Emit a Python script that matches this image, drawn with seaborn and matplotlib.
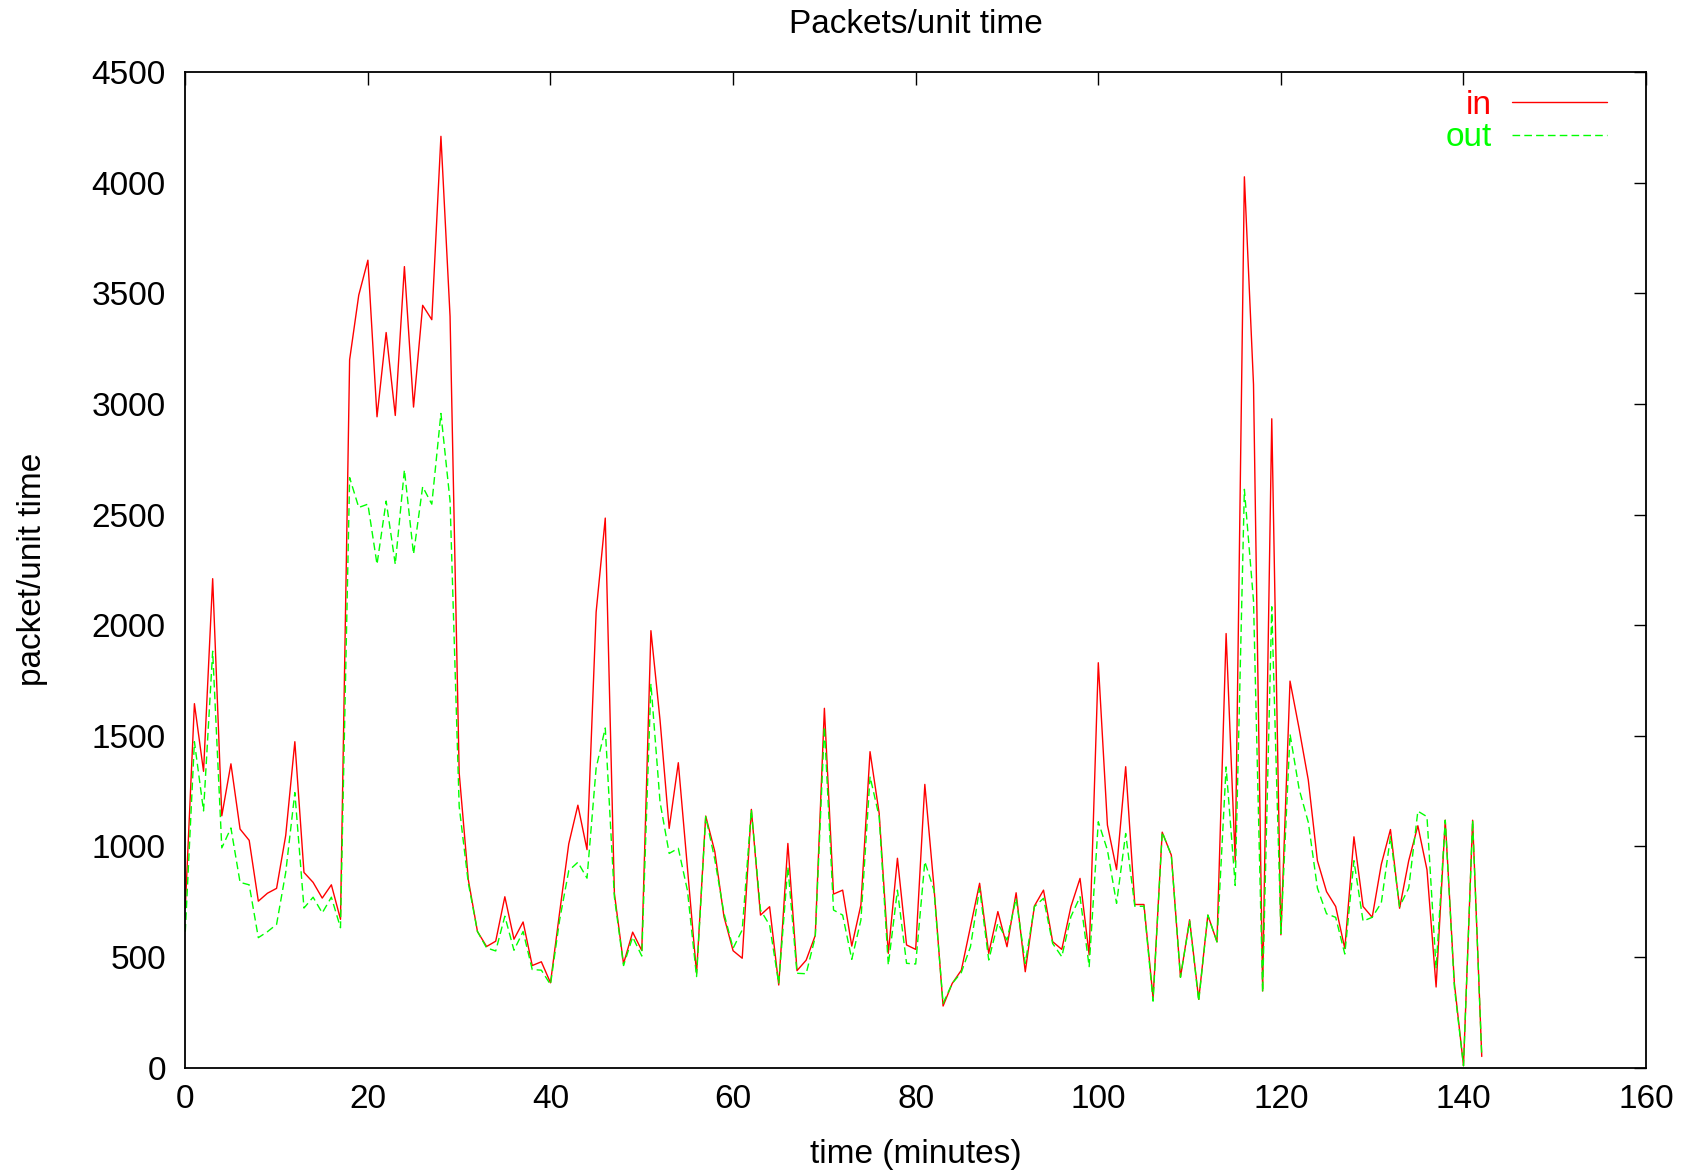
import numpy as np
import pandas as pd
import matplotlib
matplotlib.use("Agg")
import matplotlib.pyplot as plt
import seaborn as sns

minutes = list(range(143))

packets_in = [
    720, 1645, 1339, 2210, 1138, 1373, 1078, 1027, 752, 788,
    810, 1049, 1473, 882, 837, 766, 826, 670, 3200, 3492,
    3650, 2942, 3323, 2948, 3621, 2986, 3446, 3381, 4210, 3396,
    1332, 849, 615, 547, 571, 772, 580, 658, 461, 478,
    383, 701, 1011, 1186, 985, 2059, 2484, 787, 469, 612,
    529, 1975, 1570, 1081, 1378, 900, 426, 1137, 976, 682,
    528, 494, 1167, 689, 727, 373, 1013, 438, 485, 597,
    1624, 784, 802, 549, 735, 1428, 1149, 516, 946, 554,
    534, 1280, 817, 278, 380, 440, 637, 833, 516, 705,
    546, 790, 433, 730, 802, 569, 534, 727, 855, 509,
    1830, 1096, 895, 1360, 737, 737, 314, 1064, 960, 408,
    668, 308, 689, 568, 1962, 930, 4027, 3088, 346, 2933,
    600, 1747, 1531, 1300, 935, 795, 728, 538, 1043, 728,
    679, 919, 1076, 720, 935, 1093, 894, 364, 1118, 381,
    8, 1118, 50,
]

packets_out = [
    614, 1473, 1160, 1882, 993, 1083, 837, 826, 587, 614,
    647, 882, 1243, 721, 770, 699, 770, 632, 2667, 2532,
    2547, 2275, 2561, 2275, 2702, 2321, 2626, 2547, 2957, 2561,
    1180, 834, 615, 541, 527, 684, 530, 615, 443, 440,
    375, 667, 890, 928, 856, 1354, 1535, 770, 461, 590,
    504, 1735, 1200, 968, 991, 800, 411, 1134, 940, 697,
    539, 622, 1167, 712, 644, 380, 908, 426, 424, 590,
    1541, 712, 689, 489, 667, 1315, 1134, 463, 802, 471,
    468, 931, 802, 290, 380, 430, 546, 810, 486, 652,
    576, 765, 471, 727, 765, 561, 501, 682, 772, 456,
    1111, 983, 742, 1058, 729, 729, 300, 1064, 960, 408,
    662, 300, 689, 568, 1359, 823, 2614, 2110, 340, 2083,
    606, 1507, 1258, 1109, 811, 695, 679, 513, 935, 662,
    679, 745, 1043, 728, 811, 1159, 1134, 447, 1118, 364,
    8, 1118, 50,
]

x_ticks = [0, 20, 40, 60, 80, 100, 120, 140, 160]
y_ticks = [0, 500, 1000, 1500, 2000, 2500, 3000, 3500, 4000, 4500]

df = pd.DataFrame({"t": minutes, "in": packets_in, "out": packets_out})

sns.set_style("white")
plt.rcParams["font.family"] = ["Liberation Sans", "DejaVu Sans"]
plt.rcParams["text.color"] = "black"
plt.rcParams["axes.labelcolor"] = "black"
plt.rcParams["xtick.color"] = "black"
plt.rcParams["ytick.color"] = "black"
FS = 24

fig = plt.figure(figsize=(16.89, 11.70), dpi=100)
ax = fig.add_axes([0.1097, 0.0876, 0.9746 - 0.1097, 0.9383 - 0.0876])

sns.lineplot(data=df, x="t", y="in", ax=ax, color="#ff0000", linewidth=1.0,
             label="in")
sns.lineplot(data=df, x="t", y="out", ax=ax, color="#00ff00", linewidth=1.0,
             linestyle=(0, (5.5, 3.0)), label="out")

ax.set_xlim(0, 160)
ax.set_ylim(0, 4500)
ax.set_xticks(x_ticks)
ax.set_yticks(y_ticks)
ax.tick_params(direction="in", top=True, right=True, length=9, width=1.0,
               labelsize=FS, color="black", labelcolor="black")
ax.tick_params(axis="y", pad=14)
ax.tick_params(axis="x", pad=12)
for s in ax.spines.values():
    s.set_visible(True)
    s.set_linewidth(1.3)
    s.set_color("black")

ax.set_title("Packets/unit time", fontsize=FS, pad=28, color="black")
ax.set_xlabel("time (minutes)", fontsize=FS, color="black")
ax.set_ylabel("packet/unit time", fontsize=FS, color="black")
ax.xaxis.set_label_coords(0.5, -0.0715)
ax.yaxis.set_label_coords(-0.094, 0.5)

leg = ax.legend(loc="upper right", frameon=False, markerfirst=False,
                fontsize=FS, labelcolor="linecolor", handlelength=2.85,
                handletextpad=0.6, labelspacing=0.05,
                borderaxespad=0.3, bbox_to_anchor=(0.989, 1.006))

fig.savefig("out.png", dpi=100)
